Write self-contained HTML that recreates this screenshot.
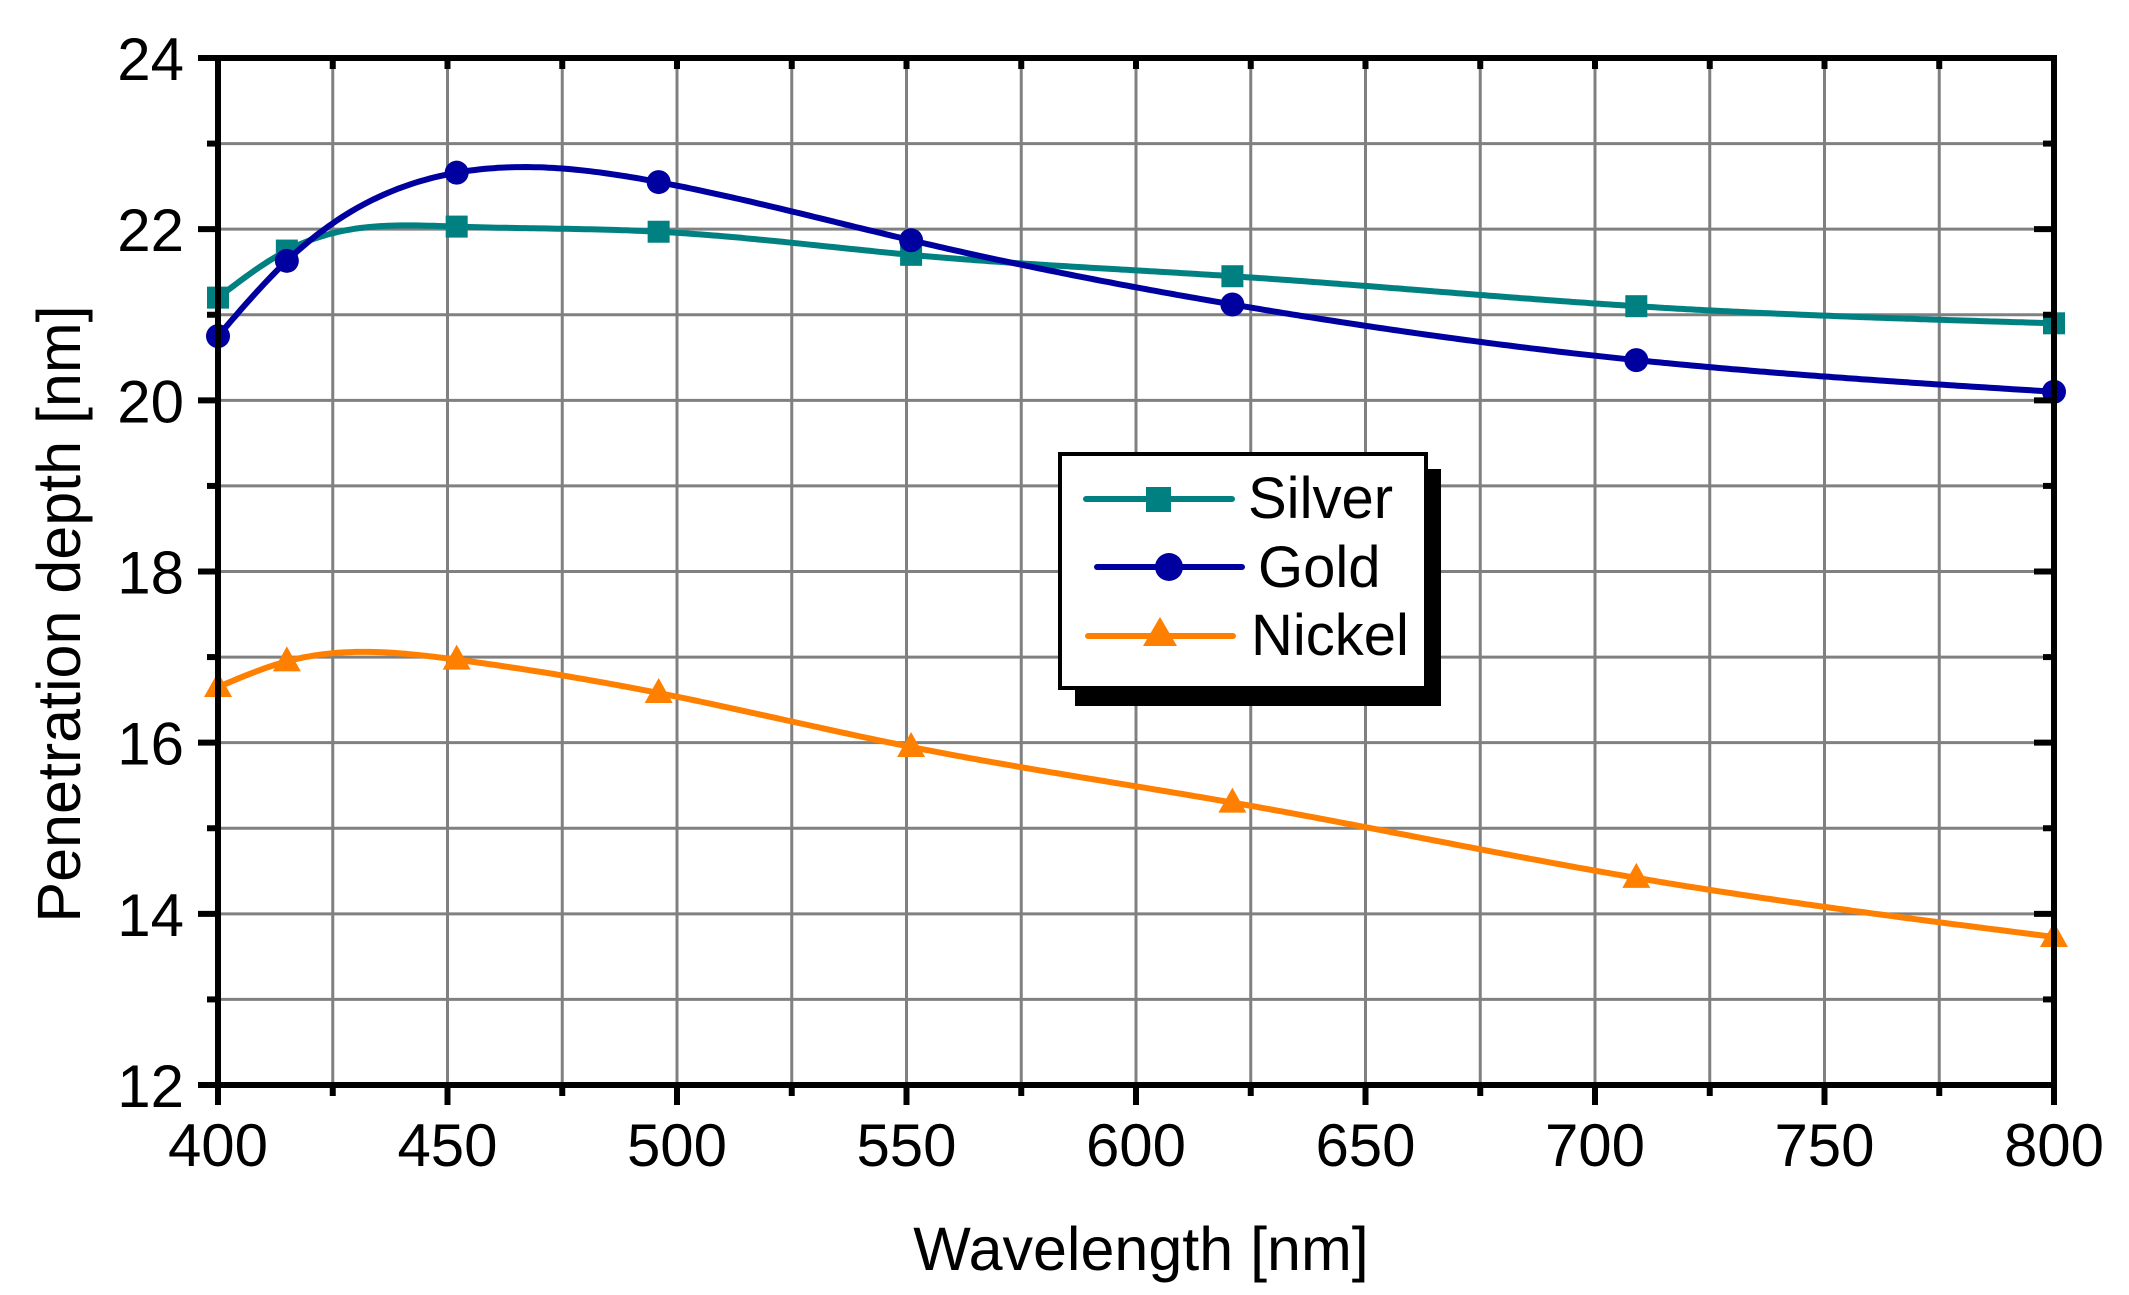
<!DOCTYPE html>
<html><head><meta charset="utf-8"><style>
html,body{margin:0;padding:0;background:#fff}
svg{display:block}
text{font-family:"Liberation Sans",Arial,sans-serif;fill:#000}
</style></head><body>
<svg id="s" width="2129" height="1295" viewBox="0 0 2129 1295" xmlns="http://www.w3.org/2000/svg">
<g id="grid" stroke="#808080" stroke-width="3"></g>
<g id="series"></g>
<g id="axes" stroke="#000" stroke-width="6" fill="none"></g>
<g id="labels" font-size="60"></g>
<text x="1141" y="1270" font-size="61" text-anchor="middle">Wavelength [nm]</text>
<text transform="translate(80,614) rotate(-90)" font-size="61" text-anchor="middle">Penetration depth [nm]</text>
<!-- legend -->
<rect x="1075" y="469" width="366" height="237" fill="#000"/>
<rect x="1060" y="454" width="366" height="234" fill="#fff" stroke="#000" stroke-width="4"/>
<line x1="1086" y1="499" x2="1232" y2="499" stroke="#008080" stroke-width="6" stroke-linecap="round"/>
<rect x="1146" y="487" width="25" height="25" fill="#008080"/>
<line x1="1097" y1="567" x2="1242" y2="567" stroke="#0000a0" stroke-width="6" stroke-linecap="round"/>
<circle cx="1169" cy="567" r="14" fill="#0000a0"/>
<line x1="1088" y1="636" x2="1233" y2="636" stroke="#ff8000" stroke-width="6" stroke-linecap="round"/>
<polygon points="1160,617 1177,646 1143,646" fill="#ff8000"/>
<text x="1248" y="518" font-size="58">Silver</text>
<text x="1258" y="587" font-size="58">Gold</text>
<text x="1251" y="655" font-size="58">Nickel</text>
</svg>
<script>
var L=218,R=2054,T=58,B=1085;
function X(v){return L+(v-400)*(R-L)/400}
function Y(v){return T+(24-v)*(B-T)/12}
var ns="http://www.w3.org/2000/svg";
function el(p,t,a){var e=document.createElementNS(ns,t);for(var k in a)e.setAttribute(k,a[k]);document.getElementById(p).appendChild(e);return e}
for(var w=425;w<800;w+=25)el("grid","line",{x1:X(w),y1:T,x2:X(w),y2:B});
for(var v=13;v<24;v++)el("grid","line",{x1:L,y1:Y(v),x2:R,y2:Y(v)});
el("axes","rect",{x:L,y:T,width:R-L,height:B-T});
for(var w=400;w<=800;w+=25){var m=(w%50==0)?20:11;
 el("axes","line",{x1:X(w),y1:B,x2:X(w),y2:B+m});
 el("axes","line",{x1:X(w),y1:T,x2:X(w),y2:T+11});
 if(w%50==0){var t=el("labels","text",{x:X(w),y:1166,"text-anchor":"middle"});t.textContent=w;}}
for(var v=12;v<=24;v++){var m=(v%2==0)?20:11;
 el("axes","line",{x1:L,y1:Y(v),x2:L-m,y2:Y(v)});
 el("axes","line",{x1:R,y1:Y(v),x2:R-m,y2:Y(v)});
 if(v%2==0){var t=el("labels","text",{x:184,y:Y(v)+22,"text-anchor":"end"});t.textContent=v;}}
var xs=[400,415,452,496,551,621,709,800];
function spline(x,y){var n=x.length,h=[],a=[],l=[1],mu=[0],z=[0],c=[],b=[],d=[];
 for(var i=0;i<n-1;i++)h[i]=x[i+1]-x[i];
 for(var i=1;i<n-1;i++)a[i]=3/h[i]*(y[i+1]-y[i])-3/h[i-1]*(y[i]-y[i-1]);
 for(var i=1;i<n-1;i++){l[i]=2*(x[i+1]-x[i-1])-h[i-1]*mu[i-1];mu[i]=h[i]/l[i];z[i]=(a[i]-h[i-1]*z[i-1])/l[i];}
 c[n-1]=0;for(var j=n-2;j>=0;j--){c[j]=z[j]-mu[j]*c[j+1];b[j]=(y[j+1]-y[j])/h[j]-h[j]*(c[j+1]+2*c[j])/3;d[j]=(c[j+1]-c[j])/(3*h[j]);}
 return function(t){var j=0;while(j<n-2&&t>x[j+1])j++;var dx=t-x[j];return y[j]+b[j]*dx+c[j]*dx*dx+d[j]*dx*dx*dx;}}
var S=[
 {c:"#008080",m:"sq",d:[21.2,21.75,22.03,21.97,21.7,21.45,21.1,20.9]},
 {c:"#0000a0",m:"ci",d:[20.75,21.63,22.66,22.55,21.87,21.12,20.47,20.1]},
 {c:"#ff8000",m:"tr",d:[16.65,16.95,16.97,16.58,15.95,15.3,14.42,13.73]}];
S.forEach(function(s){
 var f=spline(xs,s.d),d="";
 for(var w=400;w<=800;w+=1)d+=(w==400?"M":"L")+X(w).toFixed(1)+","+Y(f(w)).toFixed(1);
 el("series","path",{d:d,fill:"none",stroke:s.c,"stroke-width":6,"stroke-linejoin":"round"});
 xs.forEach(function(x,i){var cx=X(x),cy=Y(s.d[i]);
  if(s.m=="sq")el("series","rect",{x:cx-11,y:cy-11,width:22,height:22,fill:s.c});
  else if(s.m=="ci")el("series","circle",{cx:cx,cy:cy,r:12,fill:s.c});
  else el("series","polygon",{points:cx+","+(cy-15)+" "+(cx+14)+","+(cy+10)+" "+(cx-14)+","+(cy+10),fill:s.c});});
});
</script>
</body></html>
